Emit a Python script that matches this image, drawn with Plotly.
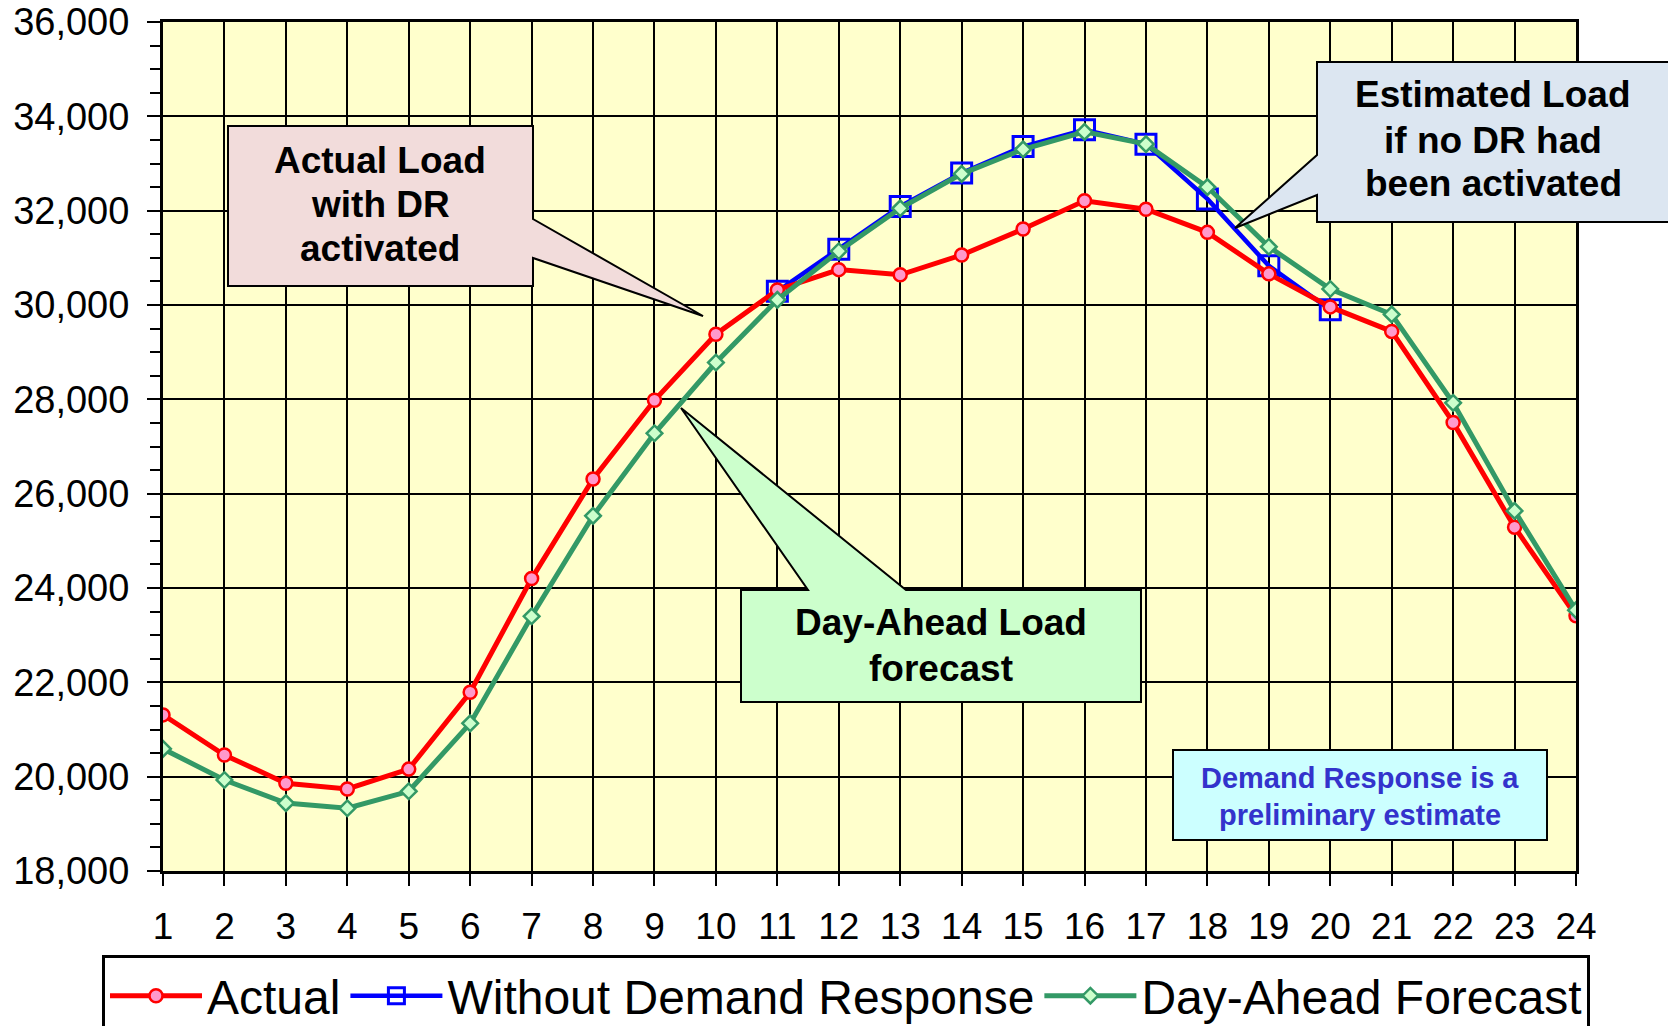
import plotly.graph_objects as go

# ---------------- data ----------------
hours = list(range(1, 25))
actual = [21310, 20460, 19860, 19740, 20160, 21790, 24200, 26310, 27980, 29380,
          30320, 30750, 30640, 31060, 31610, 32210, 32030, 31540, 30660, 29960,
          29440, 27510, 25290, 23410]
without_dr = [None] * 10 + [30290, 31180, 32090, 32800, 33360, 33715, 33410, 32250,
                            30830, 29900] + [None] * 4
day_ahead = [20590, 19930, 19440, 19330, 19690, 21130, 23400, 25530, 27280, 28780,
             30110, 31140, 32050, 32780, 33300, 33670, 33410, 32500, 31235, 30340,
             29800, 27925, 25635, 23530]
series_names = ["Actual", "Without Demand Response", "Day-Ahead Forecast"]
y_ticks = list(range(18000, 36001, 2000))

# ---------------- layout helpers ----------------
# page body has an 8px margin, so the figure is offset by 8px in the window
OFF = 8
W, H = 1676 - OFF, 1026 - OFF
PX0, PX1, PY0, PY1 = 163, 1576, 22, 871          # plot area in window pixels
L, T = PX0 - OFF, PY0 - OFF
PW, PH = PX1 - PX0, PY1 - PY0
R, B = W - L - PW, H - T - PH
FONT = "Arial, 'Liberation Sans', sans-serif"


def px(x):
    return (x - PX0) / PW


def py(y):
    return (PY1 - y) / PH


def poly(pts):
    return "M " + " L ".join(f"{px(x):.5f},{py(y):.5f}" for x, y in pts) + " Z"


fig = go.Figure()

fig.add_trace(go.Scatter(
    x=hours, y=without_dr, name=series_names[1], mode="lines+markers",
    line=dict(color="#0000FF", width=4.5),
    marker=dict(symbol="square-open", size=20, color="#0000FF",
                line=dict(color="#0000FF", width=3)),
    legendrank=2,
))
fig.add_trace(go.Scatter(
    x=hours, y=actual, name=series_names[0], mode="lines+markers",
    line=dict(color="#FF0000", width=5),
    marker=dict(symbol="circle", size=13, color="#FF99CC",
                line=dict(color="#FF0000", width=2.5)),
    legendrank=1,
))
fig.add_trace(go.Scatter(
    x=hours, y=day_ahead, name=series_names[2], mode="lines+markers",
    line=dict(color="#339966", width=5),
    marker=dict(symbol="diamond", size=12, color="#CCFFCC",
                line=dict(color="#339966", width=2.5)),
    legendrank=3,
))

shapes = [
    dict(type="path", xref="paper", yref="paper",
         path=poly([(228, 126), (533, 126), (533, 219), (703, 316), (533, 258),
                    (533, 286), (228, 286)]),
         fillcolor="#F2DCDB", line=dict(color="black", width=2)),
    dict(type="path", xref="paper", yref="paper",
         path=poly([(1317, 62), (1669, 62), (1669, 222), (1317, 222), (1317, 195),
                    (1235, 228), (1317, 155)]),
         fillcolor="#DCE6F1", line=dict(color="black", width=2)),
    dict(type="path", xref="paper", yref="paper",
         path=poly([(741, 590), (808, 590), (681, 408), (906, 590), (1141, 590),
                    (1141, 702), (741, 702)]),
         fillcolor="#CCFFCC", line=dict(color="black", width=2)),
    dict(type="rect", xref="paper", yref="paper",
         x0=px(1173), x1=px(1547), y0=py(840), y1=py(750),
         fillcolor="#CCFFFF", line=dict(color="black", width=2)),
]

callout_font = dict(size=37, color="black", family=FONT)
dr_font = dict(size=29, color="#3333CC", family=FONT)
text_lines = [
    ("Actual Load", 380, 160, callout_font),
    ("with DR", 380, 205, callout_font),
    ("activated", 380, 248, callout_font),
    ("Estimated Load", 1493, 95, callout_font),
    ("if no DR had", 1493, 140, callout_font),
    ("been activated", 1493, 183, callout_font),
    ("Day-Ahead Load", 941, 623, callout_font),
    ("forecast", 941, 668, callout_font),
    ("Demand Response is a", 1360, 778, dr_font),
    ("preliminary estimate", 1360, 815, dr_font),
]
annotations = [
    dict(text=f"<b>{t}</b>", x=px(x), y=py(y), xref="paper", yref="paper",
         showarrow=False, xanchor="center", yanchor="middle", font=f)
    for t, x, y, f in text_lines
]

fig.update_layout(
    width=W, height=H,
    margin=dict(l=L, r=R, t=T, b=B, autoexpand=False),
    paper_bgcolor="white", plot_bgcolor="#FFFFCC",
    font=dict(family=FONT, color="black"),
    shapes=shapes, annotations=annotations,
    showlegend=True,
    legend=dict(orientation="h", x=px(102), xanchor="left", y=py(955), yanchor="top",
                bgcolor="white", bordercolor="black", borderwidth=3,
                font=dict(size=48, family=FONT, color="black"), itemwidth=92),
)
fig.update_xaxes(
    range=[1, 24], tickmode="array", tickvals=hours, ticktext=[str(h) for h in hours],
    showgrid=True, gridcolor="black", gridwidth=2,
    showline=True, linecolor="black", linewidth=3, mirror=True,
    ticks="outside", ticklen=12, tickwidth=2, tickcolor="black",
    tickfont=dict(size=37, family=FONT, color="black"), ticklabelstandoff=9,
    ticklabeloverflow="allow", zeroline=False,
)
fig.update_yaxes(
    range=[18000, 36000], tickmode="array", tickvals=y_ticks,
    ticktext=[f"{v:,}" for v in y_ticks],
    showgrid=True, gridcolor="black", gridwidth=2,
    showline=True, linecolor="black", linewidth=3, mirror=True,
    ticks="outside", ticklen=13, tickwidth=2, tickcolor="black",
    minor=dict(dtick=500, tick0=18000, ticks="outside", ticklen=10, tickwidth=2,
               tickcolor="black", showgrid=False),
    tickfont=dict(size=38, family=FONT, color="black"), ticklabelstandoff=10,
    ticklabeloverflow="allow", zeroline=False,
)

fig.write_html("out.html")
